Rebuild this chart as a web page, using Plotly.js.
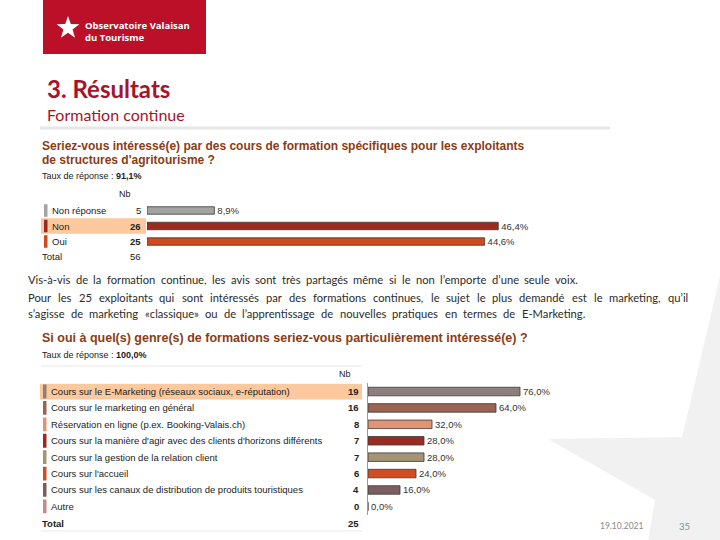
<!DOCTYPE html>
<html>
<head>
<meta charset="utf-8">
<script src="https://cdn.plot.ly/plotly-3.0.1.min.js"></script>
<style>html,body{margin:0;padding:0;background:#fff;}#chart{width:720px;height:540px;}</style>
</head>
<body>
<div id="chart"></div>
<script>
// ---- data ----
const q1Labels = ["Non réponse", "Non", "Oui"];
const q1Counts = [5, 26, 25];
const q1Pct = [8.9, 46.4, 44.6];
const q1Total = 56;
const q1Rate = "91,1%";
const q1Colors = ["#a3a3a3", "#9c2b1f", "#cf4b1f"];

const q2Labels = [
  "Cours sur le E-Marketing (réseaux sociaux, e-réputation)",
  "Cours sur le marketing en général",
  "Réservation en ligne (p.ex. Booking-Valais.ch)",
  "Cours sur la manière d'agir avec des clients d'horizons différents",
  "Cours sur la gestion de la relation client",
  "Cours sur l'accueil",
  "Cours sur les canaux de distribution de produits touristiques",
  "Autre"
];
const q2Counts = [19, 16, 8, 7, 7, 6, 4, 0];
const q2Pct = [76.0, 64.0, 32.0, 28.0, 28.0, 24.0, 16.0, 0.0];
const q2Total = 25;
const q2Rate = "100,0%";
const q2Colors = ["#8e7e7e", "#9a6352", "#e39375", "#9b2b22", "#a69376", "#d14c20", "#7d5d5f", "#c28c88"];

const paragraph = [
  "Vis-à-vis de la formation continue, les avis sont très partagés même si le non l’emporte d’une seule voix.",
  "Pour les 25 exploitants qui sont intéressés par des formations continues, le sujet le plus demandé est le marketing, qu’il",
  "s’agisse de marketing «classique» ou de l’apprentissage de nouvelles pratiques en termes de E-Marketing."
];

// ---- helpers ----
const W = 720, H = 540;
const px = x => x / W;
const py = y => 1 - y / H;
const fmt = v => v.toFixed(1).replace('.', ',') + '%';
const ARIAL = "Liberation Sans, Arial, sans-serif";
const SLIDE = "Lato, Open Sans, sans-serif";
const titleColor = "#8a3c16";
const LBL = 9.5;

const traces = [
  {
    type: 'bar', orientation: 'h', x: q1Pct, y: q1Labels, xaxis: 'x', yaxis: 'y',
    width: 0.48,
    marker: {color: q1Colors, line: {color: '#3a3a3a', width: 0.8}},
    text: q1Pct.map(fmt), textposition: 'outside', cliponaxis: false, constraintext: 'none',
    textfont: {family: ARIAL, size: 9.5, color: '#333'}, hoverinfo: 'skip'
  },
  {
    type: 'bar', orientation: 'h', x: q2Pct, y: q2Labels, xaxis: 'x2', yaxis: 'y2',
    width: 0.52,
    marker: {color: q2Colors, line: {color: '#3a3a3a', width: 0.8}},
    text: q2Pct.map(fmt), textposition: 'outside', cliponaxis: false, constraintext: 'none',
    textfont: {family: ARIAL, size: 9.5, color: '#333'}, hoverinfo: 'skip'
  }
];

const ann = [];
const shapes = [];
function txt(x, y, text, opts) {
  ann.push(Object.assign({xref: 'paper', yref: 'paper', x: px(x), y: py(y), text: text,
    showarrow: false, xanchor: 'left', yanchor: 'middle',
    font: {family: ARIAL, size: LBL, color: '#222'}}, opts || {}));
}
const cv = document.createElement('canvas').getContext('2d');
function justify(line, x0, x1, y, font) {
  cv.font = font.size + 'px Lato';
  const words = line.split(' ');
  const widths = words.map(w => cv.measureText(w).width);
  const total = widths.reduce((a, b) => a + b, 0);
  const gap = (x1 - x0 - total) / (words.length - 1);
  let x = x0;
  words.forEach((w, i) => {
    txt(x, y, w, {font: font, borderpad: 0});
    x += widths[i] + gap;
  });
}

// background star watermark
shapes.push({type: 'path', xref: 'paper', yref: 'paper', layer: 'below',
  path: `M ${px(722)} ${py(268)} L ${px(682)} ${py(437)} L ${px(548)} ${py(439)} L ${px(655)} ${py(500)} L ${px(648)} ${py(542)} L ${px(722)} ${py(542)} Z`,
  fillcolor: '#f1f1f1', line: {width: 0}});

// logo
shapes.push({type: 'rect', xref: 'paper', yref: 'paper', x0: px(43), x1: px(206), y0: py(54), y1: py(0),
  fillcolor: '#bb1027', line: {width: 0}, layer: 'below'});
(function () {
  const cx = 68, cy = 28, R = 12, r = 4.8;
  let p = '';
  for (let i = 0; i < 10; i++) {
    const a = -Math.PI / 2 + i * Math.PI / 5;
    const rr = i % 2 === 0 ? R : r;
    const X = cx + rr * Math.cos(a), Y = cy + rr * Math.sin(a);
    p += (i === 0 ? 'M ' : ' L ') + px(X) + ' ' + py(Y);
  }
  shapes.push({type: 'path', xref: 'paper', yref: 'paper', path: p + ' Z', fillcolor: '#ffffff', line: {width: 0}});
})();
txt(84, 32, "<b>Observatoire Valaisan<br>du Tourisme</b>", {align: 'left', borderpad: 0,
  font: {family: "Open Sans, sans-serif", size: 9.5, color: '#fff', lineposition: 'none'}});

// slide titles
txt(45, 88, "3. Résultats", {font: {family: SLIDE, size: 24, color: '#a8132a', weight: 700}});
txt(45, 114, "Formation continue", {font: {family: SLIDE, size: 16, color: '#a8132a'}});
shapes.push({type: 'line', xref: 'paper', yref: 'paper', x0: px(40), x1: px(610), y0: py(128), y1: py(128),
  line: {color: '#e6e6e6', width: 3}});

// ---- chart 1 table ----
txt(40, 146, "<b>Seriez-vous intéressé(e) par des cours de formation spécifiques pour les exploitants</b>", {font: {family: ARIAL, size: 12, color: titleColor}});
txt(40, 160, "<b>de structures d'agritourisme ?</b>", {font: {family: ARIAL, size: 12, color: titleColor}});
txt(40, 176, "Taux de réponse : <b>" + q1Rate + "</b>", {font: {family: ARIAL, size: 9, color: '#222'}});
txt(125, 194, "Nb", {xanchor: 'center', font: {family: ARIAL, size: 9, color: '#222'}});
shapes.push({type: 'rect', xref: 'paper', yref: 'y', x0: px(41), x1: px(146), y0: 0.5, y1: 1.5,
  fillcolor: '#fbc99d', line: {width: 0}, layer: 'below'});
q1Labels.forEach((lab, i) => {
  shapes.push({type: 'rect', xref: 'paper', yref: 'y', x0: px(44), x1: px(47.5), y0: i - 0.4, y1: i + 0.4,
    fillcolor: q1Colors[i], line: {width: 0}});
  ann.push({xref: 'paper', yref: 'y', x: px(50), y: lab, text: lab, showarrow: false, xanchor: 'left', yanchor: 'middle',
    font: {family: ARIAL, size: LBL, color: '#222'}});
  ann.push({xref: 'paper', yref: 'y', x: px(143), y: lab, text: i === 0 ? String(q1Counts[i]) : '<b>' + q1Counts[i] + '</b>',
    showarrow: false, xanchor: 'right', yanchor: 'middle', font: {family: ARIAL, size: LBL, color: '#222'}});
});
txt(40, 257, "Total", {font: {family: ARIAL, size: LBL, color: '#222'}});
txt(143, 257, String(q1Total), {xanchor: 'right', font: {family: ARIAL, size: LBL, color: '#222'}});

// ---- paragraph ----
const pFont = {family: SLIDE, size: 11.2, color: '#2b2b2b'};
justify(paragraph[0], 27, 577, 279, pFont);
justify(paragraph[1], 27, 687, 297, pFont);
justify(paragraph[2], 27, 584, 313, pFont);

// ---- chart 2 table ----
txt(40, 338, "<b>Si oui à quel(s) genre(s) de formations seriez-vous particulièrement intéressé(e) ?</b>", {font: {family: ARIAL, size: 12.5, color: titleColor}});
txt(40, 355, "Taux de réponse : <b>" + q2Rate + "</b>", {font: {family: ARIAL, size: 9, color: '#222'}});
shapes.push({type: 'line', xref: 'paper', yref: 'paper', x0: px(41), x1: px(362), y0: py(366), y1: py(366), line: {color: '#e8e8e8', width: 1}});
txt(345, 374, "Nb", {xanchor: 'center', font: {family: ARIAL, size: 9, color: '#222'}});
shapes.push({type: 'rect', xref: 'paper', yref: 'y2', x0: px(40), x1: px(362), y0: -0.48, y1: 0.48,
  fillcolor: '#fbc99d', line: {width: 0}, layer: 'below'});
q2Labels.forEach((lab, i) => {
  shapes.push({type: 'rect', xref: 'paper', yref: 'y2', x0: px(43), x1: px(46.5), y0: i - 0.42, y1: i + 0.42,
    fillcolor: q2Colors[i], line: {width: 0}});
  ann.push({xref: 'paper', yref: 'y2', x: px(49), y: lab, text: lab, showarrow: false, xanchor: 'left', yanchor: 'middle',
    font: {family: ARIAL, size: LBL, color: '#222'}});
  ann.push({xref: 'paper', yref: 'y2', x: px(361), y: lab, text: '<b>' + q2Counts[i] + '</b>',
    showarrow: false, xanchor: 'right', yanchor: 'middle', font: {family: ARIAL, size: LBL, color: '#222'}});
});
txt(40, 523, "<b>Total</b>", {font: {family: ARIAL, size: LBL, color: '#222'}});
txt(361, 523, "<b>" + q2Total + "</b>", {xanchor: 'right', font: {family: ARIAL, size: LBL, color: '#222'}});
shapes.push({type: 'line', xref: 'paper', yref: 'paper', x0: px(41), x1: px(362), y0: py(531), y1: py(531), line: {color: '#e8e8e8', width: 1}});

// footer
txt(622, 526, "19.10.2021", {xanchor: 'center', font: {family: SLIDE, size: 8.5, color: '#8a8a8a'}});
txt(684, 526, "35", {xanchor: 'center', font: {family: SLIDE, size: 9.5, color: '#8a8a8a'}});

const hidden = {showgrid: false, zeroline: false, showticklabels: false, ticks: '', showline: false, fixedrange: true};
const layout = {
  width: W, height: H, margin: {l: 0, r: 0, t: 0, b: 0},
  paper_bgcolor: '#fff', plot_bgcolor: 'rgba(0,0,0,0)',
  showlegend: false, hovermode: false, bargap: 0,
  xaxis: Object.assign({domain: [px(147), px(147 + 50 * 7.57)], range: [0, 50], anchor: 'y'}, hidden),
  yaxis: Object.assign({domain: [py(249.3), py(202.7)], type: 'category', range: [2.5, -0.5], anchor: 'x'}, hidden),
  xaxis2: Object.assign({domain: [px(368), px(568)], range: [0, 100], anchor: 'y2'}, hidden),
  yaxis2: Object.assign({}, hidden, {domain: [py(514.6), py(383.3)], type: 'category', range: [7.5, -0.5], anchor: 'x2',
    showline: true, linecolor: '#9a9a9a', linewidth: 1}),
  shapes: shapes, annotations: ann
};
Plotly.newPlot('chart', traces, layout, {staticPlot: true, displayModeBar: false});
</script>
</body>
</html>
